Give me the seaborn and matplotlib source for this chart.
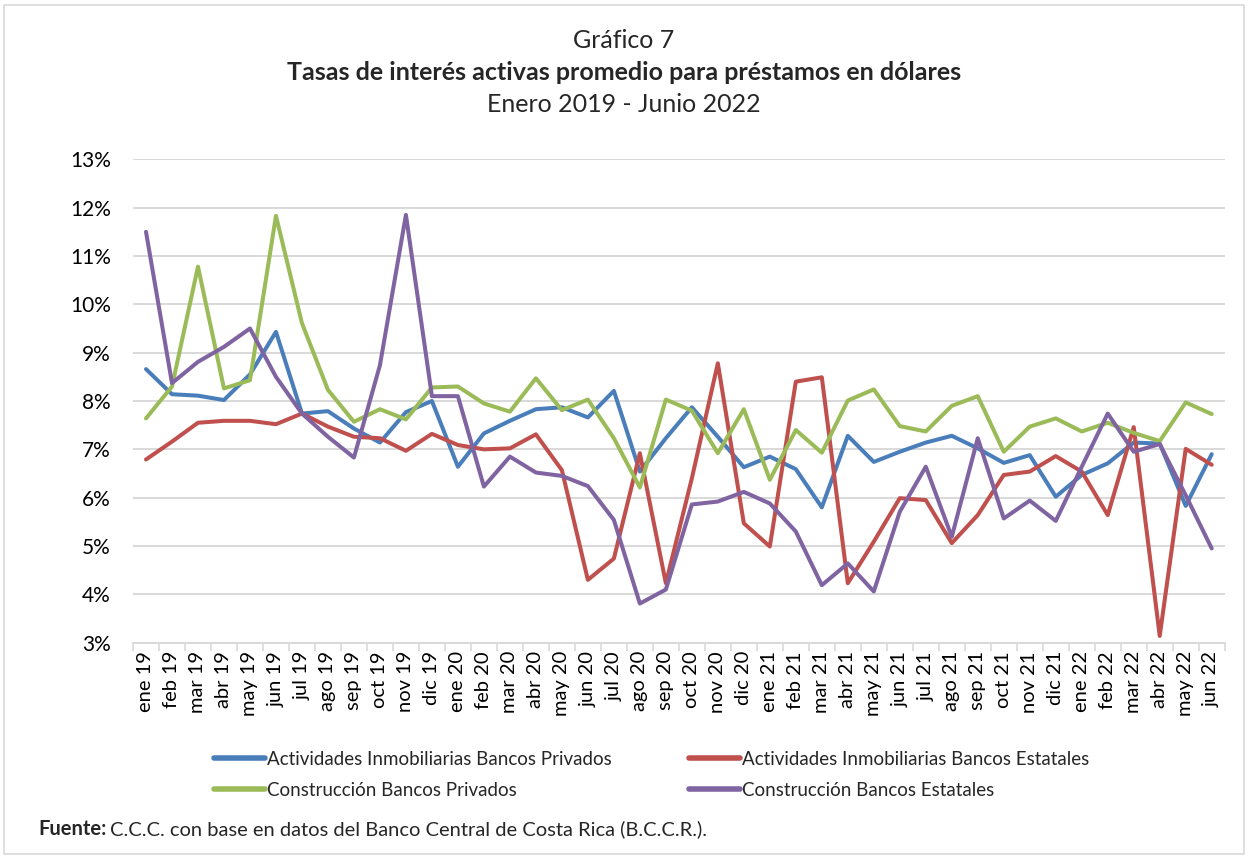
import matplotlib
matplotlib.use("Agg")
import matplotlib.pyplot as plt
import numpy as np
import pandas as pd
import seaborn as sns
from matplotlib.ticker import FuncFormatter, FixedLocator
from matplotlib.patches import Rectangle

months = ["ene 19", "feb 19", "mar 19", "abr 19", "may 19", "jun 19", "jul 19", "ago 19", "sep 19", "oct 19", "nov 19", "dic 19",
          "ene 20", "feb 20", "mar 20", "abr 20", "may 20", "jun 20", "jul 20", "ago 20", "sep 20", "oct 20", "nov 20", "dic 20",
          "ene 21", "feb 21", "mar 21", "abr 21", "may 21", "jun 21", "jul 21", "ago 21", "sep 21", "oct 21", "nov 21", "dic 21",
          "ene 22", "feb 22", "mar 22", "abr 22", "may 22", "jun 22"]

inmob_privados = [8.66, 8.14, 8.11, 8.02, 8.55, 9.43, 7.74, 7.79, 7.43, 7.14, 7.77, 8.00,
                  6.64, 7.33, 7.59, 7.83, 7.87, 7.66, 8.21, 6.54, 7.23, 7.87, 7.26, 6.63,
                  6.85, 6.59, 5.80, 7.28, 6.74, 6.95, 7.14, 7.28, 7.02, 6.72, 6.88, 6.02,
                  6.47, 6.71, 7.14, 7.12, 5.83, 6.90]
inmob_estatales = [6.79, 7.16, 7.55, 7.59, 7.59, 7.52, 7.74, 7.47, 7.26, 7.23, 6.97, 7.32,
                   7.09, 7.00, 7.02, 7.31, 6.57, 4.30, 4.74, 6.92, 4.23, 6.40, 8.78, 5.47,
                   4.99, 8.40, 8.49, 4.23, 5.09, 5.99, 5.95, 5.06, 5.64, 6.47, 6.54, 6.86,
                   6.54, 5.64, 7.46, 3.14, 7.01, 6.68]
constr_privados = [7.64, 8.30, 10.78, 8.26, 8.43, 11.83, 9.61, 8.23, 7.57, 7.83, 7.62, 8.28,
                   8.30, 7.95, 7.78, 8.47, 7.81, 8.03, 7.23, 6.21, 8.03, 7.80, 6.92, 7.83,
                   6.37, 7.40, 6.93, 8.01, 8.24, 7.48, 7.37, 7.90, 8.10, 6.95, 7.47, 7.64,
                   7.37, 7.55, 7.34, 7.17, 7.97, 7.73]
constr_estatales = [11.50, 8.37, 8.81, 9.12, 9.50, 8.50, 7.74, 7.26, 6.83, 8.74, 11.85, 8.10,
                    8.10, 6.23, 6.85, 6.52, 6.45, 6.24, 5.54, 3.81, 4.10, 5.86, 5.92, 6.12,
                    5.88, 5.30, 4.19, 4.64, 4.06, 5.71, 6.64, 5.19, 7.23, 5.57, 5.94, 5.52,
                    6.64, 7.74, 6.95, 7.11, 6.05, 4.95]

series_names = ["Actividades Inmobiliarias Bancos Privados",
                "Actividades Inmobiliarias Bancos Estatales",
                "Construcción Bancos Privados",
                "Construcción Bancos Estatales"]
series_values = [inmob_privados, inmob_estatales, constr_privados, constr_estatales]
colors = ["#4A7EBB", "#C0504D", "#9BBB59", "#8064A2"]
y_ticks = [3, 4, 5, 6, 7, 8, 9, 10, 11, 12, 13]

rows = []
for name, vals in zip(series_names, series_values):
    for i, v in enumerate(vals):
        rows.append({"idx": i, "mes": months[i], "valor": v, "serie": name})
df = pd.DataFrame(rows)

sns.set_theme(style="white")
FONT = ["Lato", "DejaVu Sans"]
plt.rcParams["font.family"] = FONT

fig = plt.figure(figsize=(12.48, 8.57), dpi=100)
ax = fig.add_axes([133 / 1248, 1 - 642.7 / 857, (1224.7 - 133) / 1248, (642.7 - 159.3) / 857])

sns.lineplot(data=df, x="idx", y="valor", hue="serie", hue_order=series_names,
             palette=colors, linewidth=2.9, legend=False, ax=ax, sort=False)

ax.set_xlim(-0.5, len(months) - 0.5)
ax.set_ylim(y_ticks[0], y_ticks[-1])
ax.set_yticks(y_ticks)
ax.yaxis.set_major_formatter(FuncFormatter(lambda v, p: f"{int(round(v))}%"))
ax.grid(axis="y", color="#D9D9D9", linewidth=1.4)
ax.set_axisbelow(True)
for s in ["top", "right", "left"]:
    ax.spines[s].set_visible(False)
ax.spines["bottom"].set_color("#D9D9D9")
ax.spines["bottom"].set_linewidth(1.4)

ax.set_xticks(range(len(months)))
ax.set_xticklabels(months, rotation=90, fontsize=14.5, color="black")
ax.tick_params(axis="x", which="major", length=0, pad=6)
ax.xaxis.set_minor_locator(FixedLocator(np.arange(-0.5, len(months), 1.0)))
ax.tick_params(axis="x", which="minor", length=6, width=1.2, color="#D9D9D9", bottom=True)
ax.tick_params(axis="y", length=0, labelsize=15, pad=16, labelcolor="black")
ax.set_xlabel("")
ax.set_ylabel("")

# titles
fig.text(0.5, 1 - 40 / 857, "Gráfico 7", ha="center", va="center", fontsize=18)
fig.text(0.5, 1 - 73 / 857, "Tasas de interés activas promedio para préstamos en dólares",
         ha="center", va="center", fontsize=18, fontweight="bold")
fig.text(0.5, 1 - 104 / 857, "Enero 2019 - Junio 2022", ha="center", va="center", fontsize=18)

# legend in two columns
lines = ax.get_lines()[:4]
order_cols = [[0, 2], [1, 3]]
xs = [214 / 1248, 689 / 1248]
for col, xpos in zip(order_cols, xs):
    leg = fig.legend([lines[k] for k in col], [series_names[k] for k in col],
                     loc="upper left", bbox_to_anchor=(xpos, 1 - 751 / 857),
                     frameon=False, fontsize=13.5, handlelength=2.7, handletextpad=0.15,
                     labelspacing=0.72, borderaxespad=0, borderpad=0)
    for h in leg.legend_handles:
        h.set_linewidth(4)

# footer
r = fig.canvas.get_renderer()
t1 = fig.text(38 / 1248, 1 - 829 / 857, "Fuente:", ha="left", va="center", fontsize=14.5, fontweight="bold")
bb = t1.get_window_extent(renderer=r)
fig.text((bb.x1 + 4) / 1248, 1 - 829 / 857, "C.C.C. con base en datos del Banco Central de Costa Rica (B.C.C.R.).",
         ha="left", va="center", fontsize=14.5)

# outer border
fig.patches.append(Rectangle((4 / 1248, 3 / 857), 1 - 8 / 1248, 1 - 8 / 857, transform=fig.transFigure,
                             fill=False, edgecolor="#D9D9D9", linewidth=1.2))

fig.savefig("out.png", dpi=100)
